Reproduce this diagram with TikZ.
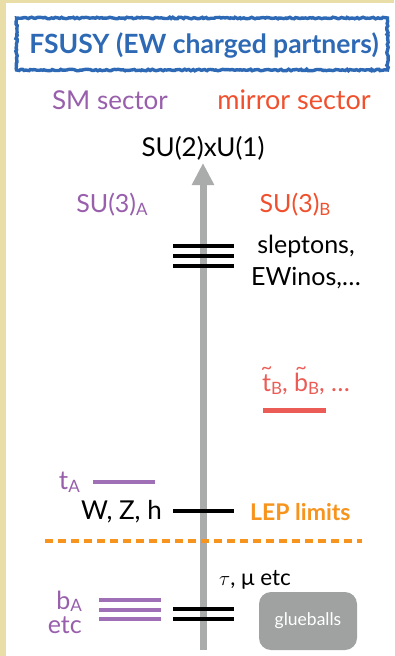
\documentclass[tikz,border=0pt]{standalone}
\usepackage{fontspec}
\setmainfont{Lato}
\usetikzlibrary{arrows.meta,decorations.pathmorphing}
\definecolor{beige}{RGB}{233,222,168}
\definecolor{tblue}{RGB}{45,105,180}
\definecolor{smpurple}{RGB}{152,95,172}
\definecolor{lpurple}{RGB}{160,112,182}
\definecolor{mred}{RGB}{240,80,45}
\definecolor{sred}{RGB}{236,92,86}
\definecolor{lep}{RGB}{247,148,30}
\definecolor{axgray}{RGB}{170,172,172}
\definecolor{gbgray}{RGB}{160,162,162}
\tikzset{
  x=1pt,y=-1pt,
  lbl/.style={inner sep=0pt,font=\fontsize{26}{30}\selectfont},
  lvlk/.style={draw=black,line width=4pt},
  lvlp/.style={draw=lpurple,line width=4pt},
  lvlr/.style={draw=sred,line width=5pt}
}
\newcommand{\subA}[1]{\raisebox{-0.2ex}{\fontsize{17}{19}\selectfont #1}}
\newcommand{\sq}[1]{\ooalign{#1\cr\hidewidth\raisebox{0.7em}{\fontsize{20}{20}\selectfont\textasciitilde}\hidewidth\cr}}
\begin{document}
\begin{tikzpicture}
\useasboundingbox (0,0) rectangle (394,656);
\fill[white] (0,0) rectangle (394,656);
\fill[beige] (0,0) rectangle (394,3);
\fill[beige] (0,0) rectangle (6,656);
% title
\node[draw=tblue,line width=3.4pt,minimum width=371pt,minimum height=52pt,inner sep=0pt,
  decorate,decoration={random steps,segment length=2pt,amplitude=0.8pt}] (titlebox) at (202,44) {};
\node[text=tblue,font=\bfseries\fontsize{26.5}{30}\selectfont,inner sep=0pt] (title) at (204,45) {FSUSY (EW charged partners)};
% headers
\node[lbl,text=smpurple,font=\fontsize{26}{30}\selectfont] (sm) at (110,100) {SM sector};
\node[lbl,text=mred,font=\fontsize{27}{30}\selectfont] (mirror) at (294,100) {mirror sector};
\node[lbl] (su2) at (203,148) {SU(2)xU(1)};
% axis
\coordinate (axbot) at (203,650);
\coordinate (axtop) at (203,163);
\draw[axgray,line width=7pt,-{Triangle[width=21pt,length=22pt]}] (axbot) -- (axtop);
\node[lbl,text=smpurple,font=\fontsize{25}{30}\selectfont] (su3a) at (112,205) {SU(3)\subA{A}};
\node[lbl,text=mred,font=\fontsize{25}{30}\selectfont] (su3b) at (295,205) {SU(3)\subA{B}};
% sleptons
\coordinate (s1l) at (173,246); \coordinate (s1r) at (234,246);
\coordinate (s2l) at (173,256); \coordinate (s2r) at (234,256);
\coordinate (s3l) at (173,266); \coordinate (s3r) at (234,266);
\draw[lvlk] (s1l) -- (s1r);
\draw[lvlk] (s2l) -- (s2r);
\draw[lvlk] (s3l) -- (s3r);
\node[lbl,align=center,font=\fontsize{25}{32}\selectfont] (slep) at (306,262) {sleptons,\\EWinos,\dots};
% stops
\node[lbl,text=sred,font=\fontsize{25}{30}\selectfont] (stop) at (306,384) {\sq{t}\subA{B}, \sq{b}\subA{B}, \dots};
\coordinate (rl) at (263,410); \coordinate (rr) at (326,410);
\draw[lvlr] (rl) -- (rr);
% top
\node[lbl,text=smpurple,anchor=east] (ta) at (80,482) {t\subA{A}};
\coordinate (tl) at (93,482); \coordinate (tr) at (155,482);
\draw[lvlp] (tl) -- (tr);
% W Z h
\node[lbl,anchor=east] (wzh) at (162,512) {W, Z, h};
\coordinate (wl) at (173,511); \coordinate (wr) at (234,511);
\draw[lvlk] (wl) -- (wr);
\node[lbl,text=lep,anchor=west,font=\bfseries\fontsize{23}{28}\selectfont] (lep) at (250,512) {LEP limits};
% dashed
\coordinate (dl) at (45,541); \coordinate (dr) at (362,541);
\draw[lep,line width=4pt,dash pattern=on 8pt off 5pt] (dl) -- (dr);
% bottom
\node[lbl,font=\fontsize{22.5}{26}\selectfont] (tau) at (255,580) {$\tau$, μ etc};
\node[lbl,text=smpurple,anchor=east,align=right,font=\fontsize{25}{24}\selectfont] (ba) at (82,612) {b\subA{A}\\etc};
\coordinate (p1l) at (99,600); \coordinate (p1r) at (161,600);
\coordinate (p2l) at (99,610); \coordinate (p2r) at (161,610);
\coordinate (p3l) at (99,619); \coordinate (p3r) at (161,619);
\draw[lvlp] (p1l) -- (p1r);
\draw[lvlp] (p2l) -- (p2r);
\draw[lvlp] (p3l) -- (p3r);
\coordinate (k1l) at (173,609); \coordinate (k1r) at (234,609);
\coordinate (k2l) at (173,619); \coordinate (k2r) at (234,619);
\draw[lvlk] (k1l) -- (k1r);
\draw[lvlk] (k2l) -- (k2r);
\node[fill=gbgray,rounded corners=12pt,minimum width=98pt,minimum height=58pt,inner sep=0pt,
  text=white,font=\fontsize{17.5}{20}\selectfont] (glue) at (308,621) {glueballs};
\end{tikzpicture}
\end{document}
